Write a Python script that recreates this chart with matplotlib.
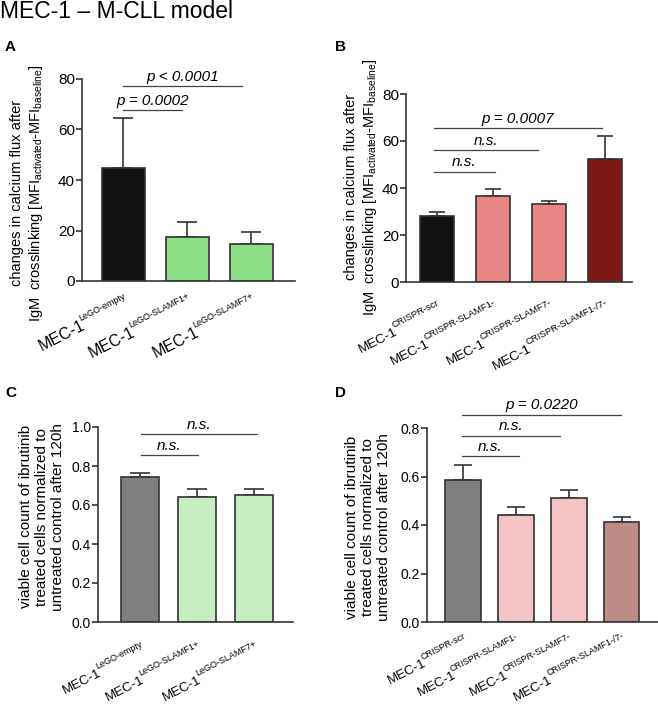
import numpy as np
import matplotlib
matplotlib.use('Agg')
import matplotlib.pyplot as plt
from matplotlib.transforms import ScaledTranslation
from matplotlib.font_manager import FontProperties

plt.rcParams['font.family'] = ['Liberation Sans', 'DejaVu Sans']
plt.rcParams['mathtext.fontset'] = 'custom'
plt.rcParams['mathtext.rm'] = 'Liberation Sans'
plt.rcParams['mathtext.it'] = 'Liberation Sans:italic'
plt.rcParams['mathtext.bf'] = 'Liberation Sans:bold'

# data
lego_groups = ['LeGO-empty', 'LeGO-SLAMF1+', 'LeGO-SLAMF7+']
crispr_groups = ['CRISPR-scr', 'CRISPR-SLAMF1-', 'CRISPR-SLAMF7-', 'CRISPR-SLAMF1-/7-']

a_vals = [44.7, 17.5, 14.6]
a_err = [19.7, 6.0, 4.9]
a_sig = [(0, 0.92, 67.7, 'p = 0.0002'), (0, 1.86, 77.2, 'p < 0.0001')]

b_vals = [28.0, 36.6, 33.3, 52.2]
b_err = [1.75, 3.1, 1.1, 10.0]
b_sig = [(-0.05, 1.03, 47.0, 'n.s.'), (-0.05, 1.8, 56.1, 'n.s.'), (-0.05, 2.95, 65.6, 'p = 0.0007')]

c_vals = [0.745, 0.641, 0.651]
c_err = [0.019, 0.041, 0.031]
c_sig = [(0.02, 1.01, 0.855, 'n.s.'), (0.02, 2.04, 0.962, 'n.s.')]

d_vals = [0.584, 0.440, 0.510, 0.411]
d_err = [0.063, 0.034, 0.036, 0.021]
d_sig = [(-0.02, 1.06, 0.683, 'n.s.'), (-0.02, 1.84, 0.768, 'n.s.'), (-0.02, 2.99, 0.855, 'p = 0.0220')]

ylab_calcium = ('changes in calcium flux after\n'
                'IgM  crosslinking [MFI$_{\\text{activated}}$-MFI$_{\\text{baseline}}$]')
ylab_viable = ('viable cell count of ibrutinib\n'
               'treated cells normalized to\n'
               'untreated control after 120h')

fig = plt.figure(figsize=(6.58, 7.06), dpi=100)
renderer = fig.canvas.get_renderer()
fig.text(0.0, 1 - 18/706, 'MEC-1 \u2013 M-CLL model', fontsize=16.5, ha='left', va='baseline')


def xlabels(ax, groups, base, sup, gap, rot=27):
    # "MEC-1" with a small raised superscript, rotated, ending just under each bar
    t = np.deg2rad(rot)
    u = np.array([np.cos(t), np.sin(t)])
    n = np.array([-np.sin(t), np.cos(t)])
    for i, g in enumerate(groups):
        w_sup = renderer.get_text_width_height_descent(g, FontProperties(size=sup), ismath=False)[0] * 72 / fig.dpi
        b_end = np.array([0, -gap]) - 0.72 * sup * n
        s_start = b_end - w_sup * u
        p = s_start - 0.55 * base * n + 0.1 * base * u
        for txt, pos, size, ha in [(g, s_start, sup, 'left'), ('MEC-1', p, base, 'right')]:
            tr = ax.get_xaxis_transform() + ScaledTranslation(pos[0] / 72, pos[1] / 72, fig.dpi_scale_trans)
            ax.text(i, 0, txt, transform=tr, fontsize=size, ha=ha, va='baseline',
                    rotation=rot, rotation_mode='anchor', clip_on=False)


def panel(rect, vals, err, groups, colors, ymax, yticks, fmt, sig, ylab, xlim,
          width, cap, tickfs, ylfs, lsp, labx, laby, letter, letterpos, xl):
    ax = fig.add_axes(rect)
    x = np.arange(len(vals))
    ax.bar(x, vals, width=width, color=colors, edgecolor='#333333', linewidth=1.2, zorder=2)
    ax.errorbar(x, vals, yerr=[np.zeros(len(vals)), err], fmt='none', ecolor='#333333',
                elinewidth=1.2, capsize=cap, capthick=1.2, zorder=1)
    ax.set_ylim(0, ymax)
    ax.set_xlim(*xlim)
    ax.set_yticks(yticks)
    ax.set_yticklabels([fmt.format(t) for t in yticks], fontsize=tickfs)
    ax.set_xticks([])
    ax.tick_params(axis='y', length=4, width=1.2, color='#333333', pad=1)
    for s in ['top', 'right']:
        ax.spines[s].set_visible(False)
    for s in ['left', 'bottom']:
        ax.spines[s].set_linewidth(1.2)
        ax.spines[s].set_color('#333333')
    ax.set_ylabel(ylab, fontsize=ylfs, linespacing=lsp)
    ax.yaxis.set_label_coords(labx, laby)
    for x0, x1, h, txt in sig:
        ax.plot([x0, x1], [h, h], color='#444444', lw=0.9, clip_on=False)
        ax.text((x0 + x1) / 2, h + ymax * 0.012, txt, ha='center', va='bottom',
                fontsize=11, style='italic', clip_on=False)
    fig.text(letterpos[0], letterpos[1], letter, fontsize=11, fontweight='bold',
             ha='left', va='center')
    xlabels(ax, groups, *xl)
    return ax


panel([82/658, 1 - 281/706, 213/658, 202/706], a_vals, a_err, lego_groups,
      ['#121212', '#8ddf85', '#8ddf85'], 80, [0, 20, 40, 60, 80], '{:.0f}', a_sig,
      ylab_calcium, (-0.64, 2.68), 0.67, 7, 11, 10.5, 1.25, -0.174, 0.435,
      'A', (5/658, 1 - 47/706), (11.5, 6.5, 8))

panel([406/658, 1 - 282/706, 226/658, 188/706], b_vals, b_err, crispr_groups,
      ['#121212', '#e98787', '#e98787', '#7e1a16'], 80, [0, 20, 40, 60, 80], '{:.0f}', b_sig,
      ylab_calcium, (-0.55, 3.48), 0.6, 5.5, 11, 10.5, 1.25, -0.12, 0.505,
      'B', (335/658, 1 - 47/706), (9.7, 6.8, 11.5))

panel([98/658, 1 - 622/706, 195/658, 195/706], c_vals, c_err, lego_groups,
      ['#7f7f7f', '#c6eec2', '#c6eec2'], 1.0, [0, 0.2, 0.4, 0.6, 0.8, 1.0], '{:.1f}', c_sig,
      ylab_viable, (-0.74, 2.68), 0.67, 7.5, 10, 11, 1.2, -0.169, 0.54,
      'C', (5/658, 1 - 393/706), (9.5, 6.5, 13))

panel([427/658, 1 - 622/706, 231/658, 194/706], d_vals, d_err, crispr_groups,
      ['#7f7f7f', '#f4c3c3', '#f4c3c3', '#bf8b86'], 0.8, [0, 0.2, 0.4, 0.6, 0.8], '{:.1f}', d_sig,
      ylab_viable, (-0.68, 3.69), 0.68, 6.5, 10, 11, 1.2, -0.156, 0.49,
      'D', (335/658, 1 - 393/706), (9.5, 6.5, 7))

fig.savefig('out.png', dpi=100)
